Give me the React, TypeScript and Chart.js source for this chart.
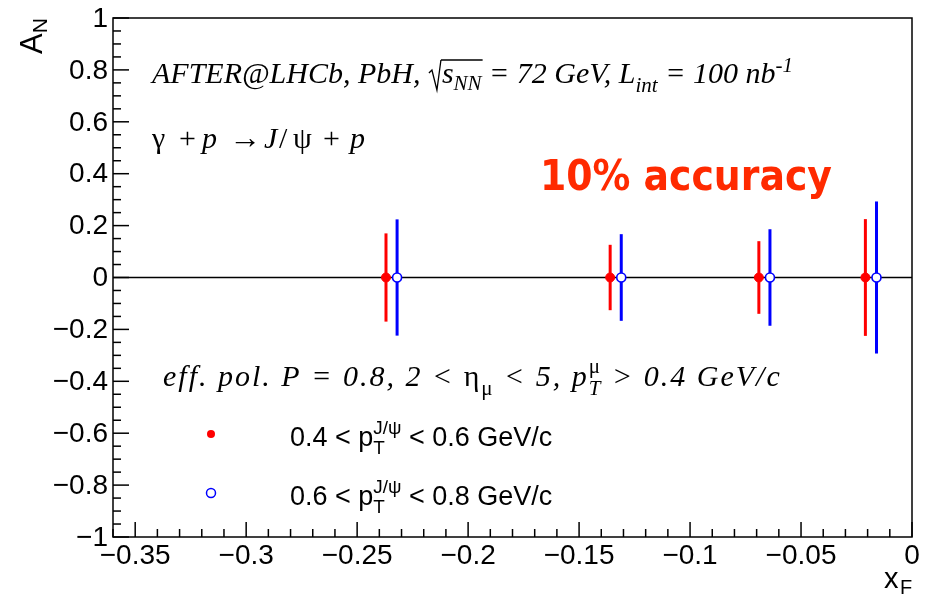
import React, { useEffect, useRef } from "react";
import { Chart, registerables } from "chart.js";

Chart.register(...registerables);

// ---- data ----
const xRed = [-0.237, -0.136, -0.069, -0.021];
const yRed = [0, 0, 0, 0];
const errRed = [0.17, 0.126, 0.14, 0.225];

const xBlue = [-0.232, -0.131, -0.064, -0.016];
const yBlue = [0, 0, 0, 0];
const errBlue = [0.224, 0.167, 0.186, 0.293];

const xMajorTicks = [-0.35, -0.3, -0.25, -0.2, -0.15, -0.1, -0.05, 0];
const xTickLabels = ["\u22120.35", "\u22120.3", "\u22120.25", "\u22120.2", "\u22120.15", "\u22120.1", "\u22120.05", "0"];
const yMajorTicks = [-1, -0.8, -0.6, -0.4, -0.2, 0, 0.2, 0.4, 0.6, 0.8, 1];
const yTickLabels = ["\u22121", "\u22120.8", "\u22120.6", "\u22120.4", "\u22120.2", "0", "0.2", "0.4", "0.6", "0.8", "1"];

const X_MIN = -0.36;
const X_MAX = 0;
const Y_MIN = -1;
const Y_MAX = 1;

const SANS = "'Liberation Sans', Arial, Helvetica, sans-serif";
const SERIF = "'Liberation Serif', 'Times New Roman', serif";

type Seg = {
  t?: string;
  fam?: string;
  it?: boolean;
  size: number;
  dy?: number;
  sup?: string;
  sub?: string;
  supFam?: string;
  subFam?: string;
  supIt?: boolean;
  subIt?: boolean;
  at?: number;
};

function drawRich(ctx: CanvasRenderingContext2D, x: number, y: number, segs: Seg[], color: string) {
  let cx = x;
  ctx.fillStyle = color;
  ctx.textAlign = "left";
  ctx.textBaseline = "alphabetic";
  for (const s of segs) {
    if (s.at !== undefined) cx = s.at;
    if (s.t !== undefined) {
      ctx.font = `${s.it ? "italic " : ""}${s.size}px ${s.fam || SERIF}`;
      ctx.fillText(s.t, cx, y + (s.dy || 0));
      cx += ctx.measureText(s.t).width;
    } else {
      const ss = s.size * 0.7;
      let w = 0;
      if (s.sup) {
        ctx.font = `${s.supIt ? "italic " : ""}${ss}px ${s.supFam || SERIF}`;
        ctx.fillText(s.sup, cx, y - s.size * 0.45);
        w = Math.max(w, ctx.measureText(s.sup).width);
      }
      if (s.sub) {
        ctx.font = `${s.subIt ? "italic " : ""}${ss}px ${s.subFam || SERIF}`;
        ctx.fillText(s.sub, cx, y + s.size * 0.3);
        w = Math.max(w, ctx.measureText(s.sub).width);
      }
      cx += w;
    }
  }
  return cx;
}

const decorPlugin = {
  id: "decor",
  beforeDatasetsDraw(chart: any) {
    const ctx: CanvasRenderingContext2D = chart.ctx;
    const xs = chart.scales.x;
    const ys = chart.scales.y;
    ctx.save();
    ctx.lineCap = "butt";
    chart.data.datasets.forEach((ds: any) => {
      if (!ds.errors) return;
      ctx.strokeStyle = ds.borderColor;
      ctx.lineWidth = 3;
      ds.data.forEach((p: any, i: number) => {
        const e = ds.errors[i];
        const px = xs.getPixelForValue(p.x);
        ctx.beginPath();
        ctx.moveTo(px, ys.getPixelForValue(p.y + e));
        ctx.lineTo(px, ys.getPixelForValue(p.y - e));
        ctx.stroke();
      });
    });
    ctx.restore();
  },
  afterDraw(chart: any) {
    const ctx: CanvasRenderingContext2D = chart.ctx;
    const xs = chart.scales.x;
    const ys = chart.scales.y;
    const a = chart.chartArea;
    ctx.save();
    // frame
    ctx.strokeStyle = "#000";
    ctx.lineWidth = 1.5;
    ctx.strokeRect(a.left, a.top, a.right - a.left, a.bottom - a.top);

    // y ticks
    for (let k = 0; k <= 40; k++) {
      const v = Y_MIN + k * 0.05;
      const py = ys.getPixelForValue(v);
      const major = k % 4 === 0;
      ctx.beginPath();
      ctx.moveTo(a.left, py);
      ctx.lineTo(a.left + (major ? 16 : 8), py);
      ctx.stroke();
    }
    // x ticks
    for (let k = 0; k <= 36; k++) {
      const v = X_MAX - k * 0.01;
      if (v < X_MIN - 1e-9) break;
      const px = xs.getPixelForValue(v);
      const major = k % 5 === 0;
      ctx.beginPath();
      ctx.moveTo(px, a.bottom);
      ctx.lineTo(px, a.bottom - (major ? 15 : 8));
      ctx.stroke();
    }

    // tick labels
    ctx.fillStyle = "#000";
    ctx.font = `28px ${SANS}`;
    ctx.textAlign = "right";
    ctx.textBaseline = "middle";
    yMajorTicks.forEach((v, i) => {
      ctx.fillText(yTickLabels[i], a.left - 5, ys.getPixelForValue(v) + 1);
    });
    ctx.textAlign = "center";
    ctx.textBaseline = "top";
    xMajorTicks.forEach((v, i) => {
      ctx.fillText(xTickLabels[i], xs.getPixelForValue(v), a.bottom + 5);
    });

    // axis titles
    ctx.save();
    ctx.translate(42, 54);
    ctx.rotate(-Math.PI / 2);
    ctx.textAlign = "left";
    ctx.textBaseline = "alphabetic";
    ctx.font = `31px ${SANS}`;
    ctx.fillText("A", 0, 0);
    const wA = ctx.measureText("A").width;
    ctx.font = `21px ${SANS}`;
    ctx.fillText("N", wA, 5);
    ctx.restore();

    ctx.textAlign = "left";
    ctx.textBaseline = "alphabetic";
    ctx.font = `29px ${SANS}`;
    ctx.fillText("x", 884, 588);
    ctx.font = `20px ${SANS}`;
    ctx.fillText("F", 900, 594);

    // annotation texts
    const S = 30;
    let cx = drawRich(ctx, 152, 83, [{ t: "AFTER@LHCb, PbH, ", it: true, size: S }], "#000");
    // sqrt sign
    ctx.strokeStyle = "#000";
    ctx.lineWidth = 1.3;
    ctx.beginPath();
    ctx.moveTo(cx + 1, 73);
    ctx.lineTo(cx + 4, 70);
    ctx.lineTo(cx + 9, 90);
    ctx.lineTo(cx + 13, 60);
    ctx.stroke();
    const sStart = cx + 13;
    cx = drawRich(ctx, cx + 14, 83, [
      { t: "s", it: true, size: S },
      { t: "NN", it: true, size: S * 0.7, dy: 7 },
    ], "#000");
    ctx.beginPath();
    ctx.moveTo(sStart, 60);
    ctx.lineTo(cx + 1, 60);
    ctx.stroke();
    drawRich(ctx, cx, 83, [
      { t: " = 72 GeV, L", it: true, size: S },
      { t: "int", it: true, size: S * 0.7, dy: 9 },
      { t: " = 100 nb", it: true, size: S },
      { t: "-1", it: true, size: S * 0.7, dy: -11 },
    ], "#000");

    drawRich(ctx, 152, 148, [
      { t: "\u03b3", size: S, at: 152 },
      { t: "+", size: S, at: 179 },
      { t: "p", it: true, size: S, at: 202 },
      { t: "\u2192", size: S + 2, at: 229 },
      { t: "J", it: true, size: S, at: 264 },
      { t: "/", size: S, at: 279 },
      { t: "\u03c8", size: S, at: 293 },
      { t: "+", size: S, at: 323 },
      { t: "p", it: true, size: S, at: 350 },
    ], "#000");

    ctx.save();
    (ctx as any).letterSpacing = "2px";
    drawRich(ctx, 163, 386, [
      { t: "eff. pol. P = 0.8, 2 < ", it: true, size: S },
      { t: "\u03b7", size: S },
      { t: "\u03bc", size: S * 0.7, dy: 9 },
      { t: " < 5, ", it: true, size: S },
      { t: "p", it: true, size: S },
      { size: S, sup: "\u03bc", sub: "T", subIt: true },
      { t: " > 0.4 GeV/c", it: true, size: S },
    ], "#000");
    ctx.restore();

    // 10% accuracy
    ctx.font = `bold 42px 'DejaVu Sans Condensed', 'DejaVu Sans', sans-serif`;
    ctx.fillStyle = "#ff2a00";
    ctx.textAlign = "left";
    ctx.textBaseline = "alphabetic";
    ctx.fillText("10% accuracy", 540, 190);

    // legend
    ctx.fillStyle = "#ff0000";
    ctx.beginPath();
    ctx.arc(211, 434, 4, 0, Math.PI * 2);
    ctx.fill();
    ctx.strokeStyle = "#0000ff";
    ctx.lineWidth = 1.5;
    ctx.beginPath();
    ctx.arc(211, 493, 4.5, 0, Math.PI * 2);
    ctx.stroke();

    const L = 27;
    drawRich(ctx, 290, 446, [
      { t: "0.4 < p", fam: SANS, size: L },
      { size: L, sup: "J/\u03c8", sub: "T", supFam: SANS, subFam: SANS },
      { t: " < 0.6 GeV/c", fam: SANS, size: L },
    ], "#000");
    drawRich(ctx, 290, 505, [
      { t: "0.6 < p", fam: SANS, size: L },
      { size: L, sup: "J/\u03c8", sub: "T", supFam: SANS, subFam: SANS },
      { t: " < 0.8 GeV/c", fam: SANS, size: L },
    ], "#000");

    ctx.restore();
  },
};

export default function App() {
  const ref = useRef<HTMLCanvasElement | null>(null);
  useEffect(() => {
    if (!ref.current) return;
    const chart = new Chart(ref.current, {
      type: "scatter",
      data: {
        datasets: [
          {
            label: "0.4 < pT < 0.6 GeV/c",
            data: xRed.map((x, i) => ({ x, y: yRed[i] })),
            errors: errRed,
            backgroundColor: "#ff0000",
            borderColor: "#ff0000",
            pointRadius: 4.5,
            pointBorderWidth: 1,
          } as any,
          {
            label: "0.6 < pT < 0.8 GeV/c",
            data: xBlue.map((x, i) => ({ x, y: yBlue[i] })),
            errors: errBlue,
            backgroundColor: "#ffffff",
            borderColor: "#0000ff",
            pointRadius: 4.5,
            pointBorderWidth: 1.6,
          } as any,
          {
            type: "line",
            label: "zero",
            data: [
              { x: X_MIN, y: 0 },
              { x: X_MAX, y: 0 },
            ],
            borderColor: "#000",
            borderWidth: 1.5,
            pointRadius: 0,
          } as any,
        ],
      },
      options: {
        responsive: false,
        animation: false,
        layout: { padding: { left: 113, right: 16, top: 18, bottom: 60 } },
        scales: {
          x: { type: "linear", min: X_MIN, max: X_MAX, display: false },
          y: { type: "linear", min: Y_MIN, max: Y_MAX, display: false },
        },
        plugins: { legend: { display: false }, tooltip: { enabled: false } },
      },
      plugins: [decorPlugin],
    });
    return () => chart.destroy();
  }, []);
  return (
    <div style={{ position: "fixed", left: 0, top: 0, width: 928, height: 597, background: "#fff" }}>
      <canvas ref={ref} width={928} height={597} style={{ width: 928, height: 597 }} />
    </div>
  );
}
